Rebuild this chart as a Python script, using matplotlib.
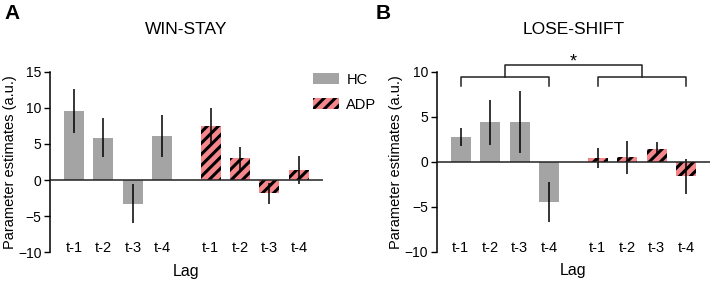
import numpy as np
import matplotlib
matplotlib.use('Agg')
import matplotlib.pyplot as plt
from matplotlib.patches import Patch

plt.rcParams['font.family'] = ['Liberation Sans', 'DejaVu Sans']
plt.rcParams['hatch.linewidth'] = 2.2

# Data
lags = ['t-1', 't-2', 't-3', 't-4']

ws_hc = [9.5, 5.85, -3.3, 6.05]
ws_hc_err = [3.05, 2.7, 2.7, 2.9]
ws_adp = [7.45, 3.0, -1.85, 1.4]
ws_adp_err = [2.55, 1.6, 1.5, 1.9]

ls_hc = [2.7, 4.4, 4.4, -4.45]
ls_hc_err = [1.0, 2.5, 3.4, 2.2]
ls_adp = [0.45, 0.48, 1.45, -1.6]
ls_adp_err = [1.1, 1.85, 0.7, 1.95]

gray = '#a4a4a4'
pink = '#f3878b'

fig = plt.figure(figsize=(7.12, 2.84), dpi=100)
axA = fig.add_axes([0.0702, 0.1116, 0.3834, 0.636])
axB = fig.add_axes([0.6133, 0.1137, 0.3840, 0.634])

x_hc = np.arange(4)
x_adp = np.arange(4) + 4.65
w = 0.68


def draw_panel(ax, hc, hc_err, adp, adp_err, ylim, yticks, title):
    ax.bar(x_hc, hc, width=w, color=gray, edgecolor='none', zorder=2)
    ax.bar(x_adp, adp, width=w, color=pink, edgecolor='black', linewidth=0,
           hatch='///', zorder=2)
    ax.errorbar(x_hc, hc, yerr=hc_err, fmt='none', ecolor='black',
                elinewidth=1.1, capsize=0, zorder=3)
    ax.errorbar(x_adp, adp, yerr=adp_err, fmt='none', ecolor='black',
                elinewidth=1.1, capsize=0, zorder=3)
    ax.axhline(0, color='#222222', linewidth=1.1, zorder=4)
    ax.set_xlim(-0.82, 7.65 + 0.82)
    ax.set_ylim(*ylim)
    ax.set_yticks(yticks)
    ax.set_xticks(list(x_hc) + list(x_adp))
    ax.set_xticklabels(lags + lags, fontsize=10.5)
    ax.tick_params(axis='x', length=0, pad=-8)
    ax.tick_params(axis='y', labelsize=10, length=4, width=1, pad=2)
    for s in ['top', 'right', 'bottom']:
        ax.spines[s].set_visible(False)
    ax.spines['left'].set_linewidth(1.1)
    ax.set_xlabel('Lag', fontsize=11.5, labelpad=6)
    ax.set_ylabel('Parameter estimates (a.u.)', fontsize=10.5, labelpad=1)
    ax.set_title(title, fontsize=12.5, pad=27)


draw_panel(axA, ws_hc, ws_hc_err, ws_adp, ws_adp_err, (-10, 15),
           [-10, -5, 0, 5, 10, 15], 'WIN-STAY')
draw_panel(axB, ls_hc, ls_hc_err, ls_adp, ls_adp_err, (-10, 10),
           [-10, -5, 0, 5, 10], 'LOSE-SHIFT')

# legend
handles = [Patch(facecolor=gray, edgecolor='none', label='HC'),
           Patch(facecolor=pink, edgecolor='black', linewidth=0, hatch='///',
                 label='ADP')]
fig.legend(handles=handles, loc='upper left', bbox_to_anchor=(0.421, 0.79),
           frameon=False, fontsize=10.5, handlelength=1.8, handleheight=0.75,
           handletextpad=0.5, labelspacing=0.75)

# significance brackets in panel B
lo, hi, drop = 9.37, 10.75, 0.95
kw = dict(color='#222222', linewidth=1.1, clip_on=False)
for xs in (x_hc, x_adp):
    axB.plot([xs[0], xs[0], xs[-1], xs[-1]], [lo - drop, lo, lo, lo - drop], **kw)
mid_l = (x_hc[0] + x_hc[-1]) / 2
mid_r = (x_adp[0] + x_adp[-1]) / 2
axB.plot([mid_l, mid_l, mid_r, mid_r], [lo, hi, hi, lo], **kw)
axB.text((mid_l + mid_r) / 2, hi - 0.6, '*', ha='center', va='bottom',
         fontsize=13, clip_on=False)

fig.text(0.007, 0.985, 'A', fontsize=15, fontweight='bold', va='top')
fig.text(0.528, 0.985, 'B', fontsize=15, fontweight='bold', va='top')

fig.savefig('out.png', dpi=100)
